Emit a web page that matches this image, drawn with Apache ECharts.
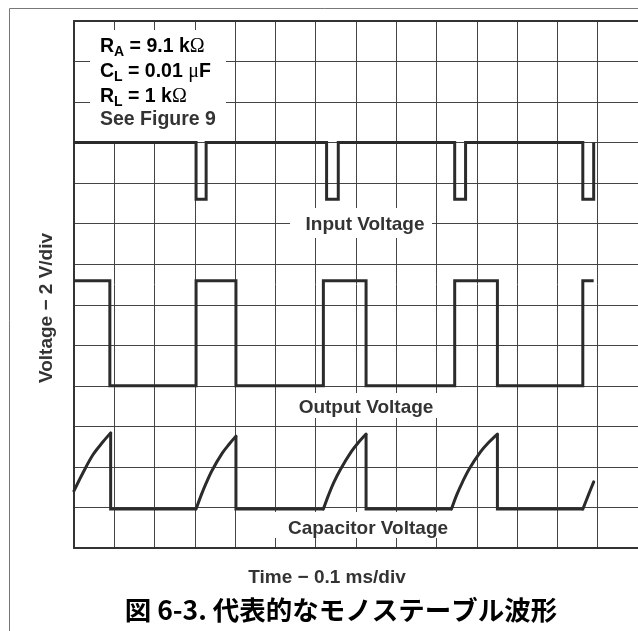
<!DOCTYPE html>
<html>
<head>
<meta charset="utf-8">
<script src="https://cdn.jsdelivr.net/npm/echarts@6/dist/echarts.min.js"></script>
<style>html,body{margin:0;padding:0;background:#fff}#c{width:638px;height:631px}</style>
</head>
<body>
<div id="c"></div>
<script>
// Axis divisions (x: time divisions, y: voltage divisions)
var xDivisions = [0, 14];
var yDivisions = [0, 13];

// Traces: [time div, voltage div]
var inputVoltage = [
  [0, 10], [3.03, 10], [3.03, 8.6], [3.28, 8.6], [3.28, 10],
  [6.27, 10], [6.27, 8.6], [6.56, 8.6], [6.56, 10],
  [9.45, 10], [9.45, 8.6], [9.72, 8.6], [9.72, 10],
  [12.63, 10], [12.63, 8.6], [12.9, 8.6], [12.9, 10]
];
var outputVoltage = [
  [0, 6.59], [0.89, 6.59], [0.89, 4.0], [3.03, 4.0], [3.03, 6.59],
  [4.02, 6.59], [4.02, 4.0], [6.19, 4.0], [6.19, 6.59],
  [7.25, 6.59], [7.25, 4.0], [9.45, 4.0], [9.45, 6.59],
  [10.51, 6.59], [10.51, 4.0], [12.63, 4.0], [12.63, 6.59], [12.9, 6.59]
];
var capacitorVoltage = [
  [0, 1.41], [0.22, 1.85], [0.47, 2.30], [0.72, 2.62], [0.91, 2.84], [0.91, 0.96],
  [3.03, 0.96], [3.16, 1.31], [3.28, 1.60], [3.43, 1.92], [3.68, 2.34], [3.85, 2.56], [4.02, 2.76], [4.02, 0.96],
  [6.19, 0.96], [6.32, 1.31], [6.45, 1.62], [6.62, 1.95], [6.88, 2.37], [7.05, 2.59], [7.25, 2.81], [7.25, 0.96],
  [9.37, 0.96], [9.50, 1.31], [9.64, 1.62], [9.81, 1.95], [10.09, 2.37], [10.28, 2.59], [10.51, 2.81], [10.51, 0.96],
  [12.63, 0.96], [12.77, 1.31], [12.9, 1.63]
];

var traceLabels = ['Input Voltage', 'Output Voltage', 'Capacitor Voltage'];
var xAxisName = 'Time \u2212 0.1 ms/div';
var yAxisName = 'Voltage \u2212 2 V/div';
var title = '図 6-3. 代表的なモノステーブル波形';

var chart = echarts.init(document.getElementById('c'));
var traceColor = '#2b2b2b';
var gridColor = '#444';
var sans = '"Liberation Sans", Arial, sans-serif';
var labelFont = 'bold 19px ' + sans;
var boxRich = {
  b: {fontFamily: sans, fontWeight: 'bold', fontSize: 19.5, color: '#333'},
  s: {fontFamily: sans, fontWeight: 'bold', fontSize: 14, color: '#333', padding: [10, 0, 0, 0]},
  g: {fontFamily: '"Liberation Serif", serif', fontSize: 20, color: '#333'}
};
function seriesOf(data, smooth) {
  return {type: 'line', data: data, showSymbol: false, symbol: 'none', z: 5, smooth: smooth ? 0.35 : false,
    lineStyle: {color: traceColor, width: 3, join: 'miter', cap: smooth ? 'round' : 'butt'}, animation: false};
}
// split a trace into rising (curved) runs and the remaining straight runs
function splitRuns(data) {
  var runs = [];
  var cur = null;
  for (var i = 0; i < data.length - 1; i++) {
    var a = data[i], b = data[i + 1];
    var rising = b[0] > a[0] && b[1] > a[1];
    if (!cur || cur.rising !== rising) {
      cur = {rising: rising, pts: [a]};
      runs.push(cur);
    }
    cur.pts.push(b);
  }
  return runs;
}
var capSeries = splitRuns(capacitorVoltage).map(function (r) { return seriesOf(r.pts, r.rising); });

chart.setOption({
  animation: false,
  grid: {left: 74, top: 21, right: -3.5, bottom: 83},
  xAxis: [{
    type: 'value', min: xDivisions[0], max: xDivisions[1], interval: 1,
    axisLine: {show: true, onZero: false, lineStyle: {color: '#333', width: 2}},
    axisTick: {show: false}, axisLabel: {show: false},
    splitLine: {show: true, lineStyle: {color: gridColor, width: 1}}
  }, {
    type: 'value', position: 'top', min: xDivisions[0], max: xDivisions[1], interval: 1,
    axisLine: {show: true, onZero: false, lineStyle: {color: '#333', width: 2}},
    axisTick: {show: false}, axisLabel: {show: false}, splitLine: {show: false}
  }],
  yAxis: {
    type: 'value', min: yDivisions[0], max: yDivisions[1], interval: 1,
    axisLine: {show: true, onZero: false, lineStyle: {color: '#333', width: 2}},
    axisTick: {show: false}, axisLabel: {show: false},
    splitLine: {show: true, lineStyle: {color: gridColor, width: 1}}
  },
  series: [seriesOf(inputVoltage, false), seriesOf(outputVoltage, false)].concat(capSeries),
  graphic: [
    {type: 'rect', z: 100, silent: true, shape: {x: 9.5, y: 8.5, width: 700, height: 700}, style: {fill: 'none', stroke: '#777', lineWidth: 1}},
    {type: 'rect', z: 1, shape: {x: 90, y: 30, width: 136, height: 111}, style: {fill: '#fff'}},
    {type: 'rect', z: 1, shape: {x: 290, y: 208, width: 142, height: 30}, style: {fill: '#fff'}},
    {type: 'rect', z: 1, shape: {x: 282, y: 393, width: 164, height: 25}, style: {fill: '#fff'}},
    {type: 'rect', z: 1, shape: {x: 272, y: 512, width: 186, height: 26}, style: {fill: '#fff'}},
    {type: 'text', z: 10, style: {text: '{b|R}{s|A}{b| = 9.1 k}{g|\u03A9}', rich: boxRich, x: 100, y: 47, verticalAlign: 'middle'}},
    {type: 'text', z: 10, style: {text: '{b|C}{s|L}{b| = 0.01 }{g|\u03BC}{b|F}', rich: boxRich, x: 100, y: 72, verticalAlign: 'middle'}},
    {type: 'text', z: 10, style: {text: '{b|R}{s|L}{b| = 1 k}{g|\u03A9}', rich: boxRich, x: 100, y: 97, verticalAlign: 'middle'}},
    {type: 'text', z: 10, style: {text: 'See Figure 9', font: 'bold 19.5px ' + sans, fill: '#333', x: 100, y: 120, verticalAlign: 'middle'}},
    {type: 'text', z: 10, style: {text: traceLabels[0], font: labelFont, fill: '#333', x: 365, y: 225, align: 'center', verticalAlign: 'middle'}},
    {type: 'text', z: 10, style: {text: traceLabels[1], font: labelFont, fill: '#333', x: 366, y: 408, align: 'center', verticalAlign: 'middle'}},
    {type: 'text', z: 10, style: {text: traceLabels[2], font: labelFont, fill: '#333', x: 368, y: 529, align: 'center', verticalAlign: 'middle'}},
    {type: 'text', z: 10, style: {text: xAxisName, font: 'bold 19px ' + sans, fill: '#333', x: 327, y: 578, align: 'center', verticalAlign: 'middle'}},
    {type: 'text', z: 10, x: 47, y: 308, rotation: Math.PI / 2, style: {text: yAxisName, font: 'bold 19px ' + sans, fill: '#333', x: 0, y: 0, align: 'center', verticalAlign: 'middle'}},
    {type: 'text', z: 10, style: {text: title, font: 'bold 26.5px "Noto Sans CJK JP", sans-serif', fill: '#000', x: 341, y: 610, align: 'center', verticalAlign: 'middle'}}
  ]
});
</script>
</body>
</html>
